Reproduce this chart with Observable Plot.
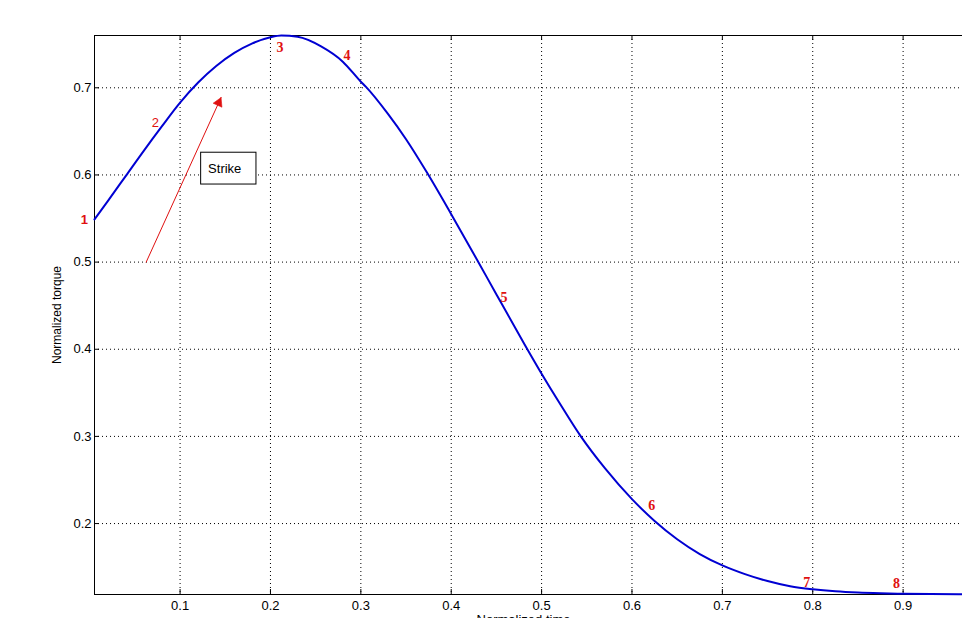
<!DOCTYPE html>
<html>
<head>
<meta charset="utf-8">
<script src="https://cdn.jsdelivr.net/npm/d3@7"></script>
<script src="https://cdn.jsdelivr.net/npm/@observablehq/plot@0.6"></script>
<style>
  html, body { margin: 0; padding: 0; background: #fff; overflow: hidden; }
  #chart { width: 962px; height: 618px; }
</style>
</head>
<body>
<div id="chart"></div>
<script>
// ---- data ----
const xDomain = [0.0053, 0.9657];
const yDomain = [0.1186, 0.76];
const xTicks = [0.1, 0.2, 0.3, 0.4, 0.5, 0.6, 0.7, 0.8, 0.9];
const yTicks = [0.2, 0.3, 0.4, 0.5, 0.6, 0.7];

const curveX = [0.0053, 0.02, 0.04, 0.06, 0.08, 0.10, 0.12, 0.14, 0.16, 0.18, 0.20, 0.212, 0.23, 0.256, 0.28, 0.30, 0.3057, 0.33, 0.35, 0.373, 0.40, 0.4284, 0.4505, 0.4815, 0.50, 0.52, 0.5434, 0.57, 0.60, 0.625, 0.65, 0.675, 0.70, 0.725, 0.75, 0.775, 0.80, 0.825, 0.85, 0.875, 0.90, 0.9657];
const curveY = [0.549, 0.570, 0.599, 0.628, 0.656, 0.683, 0.706, 0.725, 0.740, 0.751, 0.758, 0.760, 0.7585, 0.7475, 0.730, 0.707, 0.701, 0.670, 0.641, 0.603, 0.555, 0.503, 0.462, 0.405, 0.372, 0.338, 0.300, 0.2635, 0.228, 0.203, 0.182, 0.165, 0.152, 0.142, 0.134, 0.128, 0.1245, 0.1222, 0.1208, 0.1200, 0.1195, 0.1190];

const markerText = ["1", "2", "3", "4", "5", "6", "7", "8"];
const markerX = [-0.006, 0.0725, 0.2106, 0.2847, 0.4583, 0.622, 0.7934, 0.8928];
const markerY = [0.549, 0.660, 0.746, 0.737, 0.4597, 0.2205, 0.132, 0.131];

const arrowX = [0.0625, 0.1454];
const arrowY = [0.500, 0.689];

const boxX = [0.1233, 0.1845];
const boxY = [0.589, 0.6255];
const boxLabel = "Strike";
const boxLabelX = 0.131;
const boxLabelY = 0.6075;

const yLabel = "Normalized torque";
const xLabel = "Normalized time";

// ---- derived tables ----
const curve = curveX.map((x, i) => ({x, y: curveY[i]}));
const markers = markerText.map((t, i) => ({t, x: markerX[i], y: markerY[i]}));

const W = 962, H = 618, mL = 94, mT = 35, mB = 24, mR = 0;
const innerW = W - mL - mR, innerH = H - mT - mB;
const red = "#e01010";
const blue = "#0000d2";

const chart = Plot.plot({
  width: W, height: H,
  marginLeft: mL, marginTop: mT, marginBottom: mB, marginRight: mR,
  style: {fontFamily: "'Liberation Sans', Arial, sans-serif", fontSize: "13px", color: "#000", background: "#fff"},
  x: {domain: xDomain, ticks: xTicks},
  y: {domain: yDomain, ticks: yTicks},
  marks: [
    Plot.gridX(xTicks, {stroke: "#000", strokeOpacity: 1, strokeDasharray: "1,3"}),
    Plot.gridY(yTicks, {stroke: "#000", strokeOpacity: 1, strokeDasharray: "1,3"}),
    Plot.axisX(xTicks, {tickSize: 0, tickPadding: 6, tickFormat: d => d.toFixed(1), fontSize: 13, label: null}),
    Plot.axisY(yTicks, {tickSize: 0, tickPadding: 3, tickFormat: d => d.toFixed(1), fontSize: 13, label: null}),
    // inward ticks
    Plot.tickX(xTicks, {x: d => d, insetTop: innerH - 5, stroke: "#000"}),
    Plot.tickX(xTicks, {x: d => d, insetBottom: innerH - 5, stroke: "#000"}),
    Plot.tickY(yTicks, {y: d => d, insetRight: innerW - 5, stroke: "#000"}),
    // frame (right side is outside the window)
    Plot.ruleX([xDomain[0]], {stroke: "#000"}),
    Plot.ruleY([yDomain[0], yDomain[1]], {stroke: "#000"}),
    // curve
    Plot.line(curve, {x: "x", y: "y", stroke: blue, strokeWidth: 2, curve: "monotone-x"}),
    // arrow
    Plot.arrow([0], {x1: () => arrowX[0], y1: () => arrowY[0], x2: () => arrowX[1], y2: () => arrowY[1], stroke: red, strokeWidth: 1, headLength: 0}),
    Plot.dot([0], {x: () => arrowX[1], y: () => arrowY[1], symbol: "triangle", r: 3.6, fill: red, stroke: red, strokeWidth: 0.5, rotate: 24.6, dx: -2.4, dy: 5.3}),
    // box
    Plot.rect([0], {x1: () => boxX[0], x2: () => boxX[1], y1: () => boxY[0], y2: () => boxY[1], fill: "#fff", stroke: "#000", strokeWidth: 1}),
    Plot.text([boxLabel], {x: () => boxLabelX, y: () => boxLabelY, text: d => d, textAnchor: "start", fontSize: 13, fill: "#000"}),
    // point labels
    Plot.text(markers.slice(0, 1), {x: "x", y: "y", text: "t", fill: red, fontWeight: "bold", fontSize: 13}),
    Plot.text(markers.slice(1, 2), {x: "x", y: "y", text: "t", fill: red, fontSize: 13}),
    Plot.text(markers.slice(2), {x: "x", y: "y", text: "t", fill: red, fontWeight: "bold", fontSize: 14, fontFamily: "'Liberation Serif', 'Times New Roman', serif"}),
    // axis titles
    Plot.text([yLabel], {frameAnchor: "left", textAnchor: "middle", text: d => d, rotate: -90, dx: -37, fontSize: 12, fill: "#000"}),
    Plot.text([xLabel], {frameAnchor: "bottom", textAnchor: "middle", text: d => d, lineAnchor: "top", dy: 20, dx: -5, fontSize: 13, fill: "#000"})
  ]
});
document.getElementById("chart").appendChild(chart);
</script>
</body>
</html>
